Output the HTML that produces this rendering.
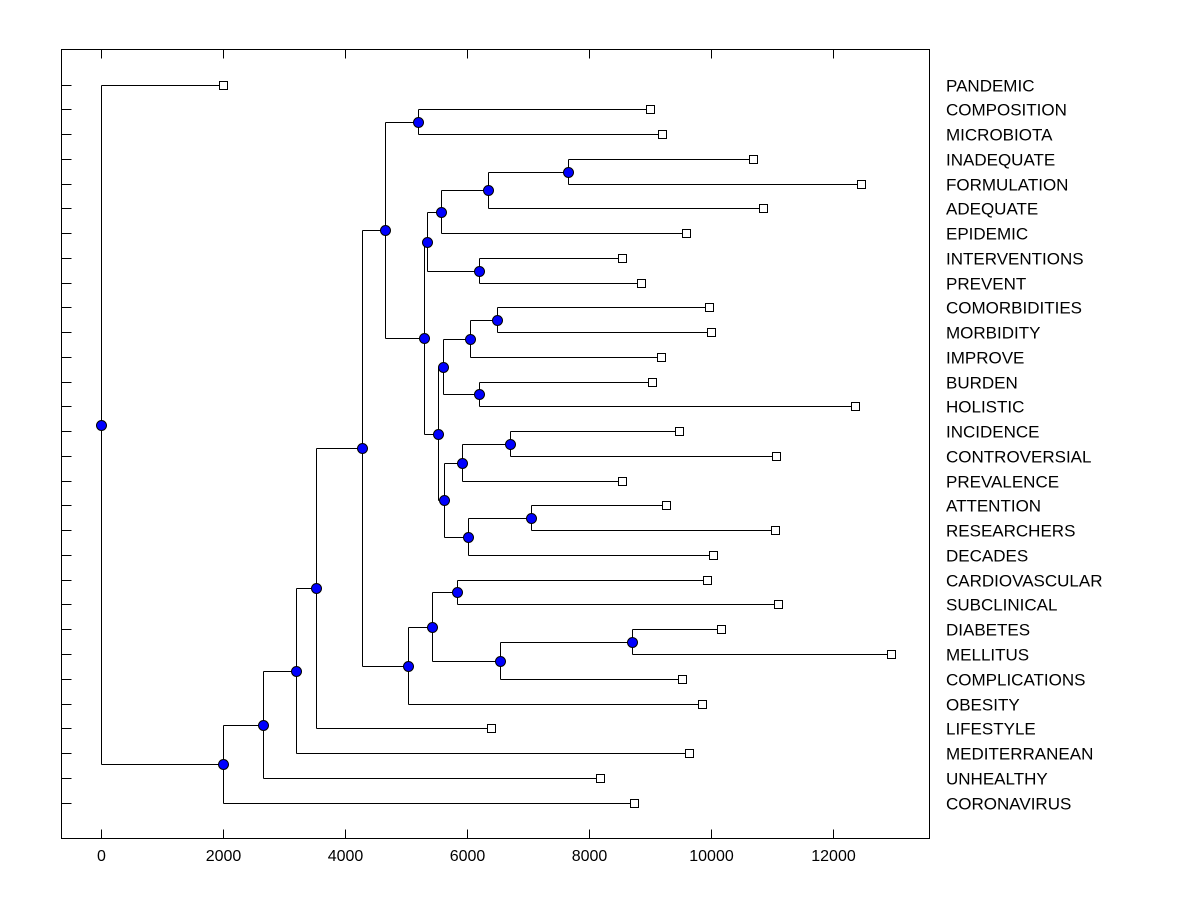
<!DOCTYPE html>
<html><head><meta charset="utf-8"><style>
body{margin:0;background:#fff}
svg{display:block}
text{font-family:"Liberation Sans",sans-serif}
</style></head><body>
<svg id="c" width="1200" height="900" xmlns="http://www.w3.org/2000/svg"></svg>
<script>
const leafLabels=["PANDEMIC","COMPOSITION","MICROBIOTA","INADEQUATE","FORMULATION","ADEQUATE","EPIDEMIC","INTERVENTIONS","PREVENT","COMORBIDITIES","MORBIDITY","IMPROVE","BURDEN","HOLISTIC","INCIDENCE","CONTROVERSIAL","PREVALENCE","ATTENTION","RESEARCHERS","DECADES","CARDIOVASCULAR","SUBCLINICAL","DIABETES","MELLITUS","COMPLICATIONS","OBESITY","LIFESTYLE","MEDITERRANEAN","UNHEALTHY","CORONAVIRUS"];
const leafHeights=[2000,9000,9200,10690,12460,10850,9590,8540,8850,9970,10000,9180,9030,12360,9480,11070,8540,9260,11050,10030,9930,11100,10160,12950,9530,9850,6390,9640,8180,8740];
const xTicks=[0,2000,4000,6000,8000,10000,12000];
// internal nodes: [name, left child, right child, height]; children: "L<i>" leaf index or node name
const nodeNames=["O","N","L","M","J","H","T","R","S","P","W","U","X","V","Q","K","I","F","BB","AA","Z","Y","G","E","D","C","B","A","ROOT"];
const nodeLeft=["L3","O","N","L7","L","L1","L9","T","L12","R","L14","W","L17","X","U","P","J","H","L22","BB","L20","Z","Y","F","E","D","C","B","L0"];
const nodeRight=["L4","L5","L6","L8","M","L2","L10","L11","L13","S","L15","L16","L18","L19","V","Q","K","I","L23","L24","L21","AA","L25","G","L26","L27","L28","L29","A"];
const nodeHeights=[7650,6350,5580,6200,5350,5200,6500,6050,6200,5600,6700,5920,7050,6020,5630,5530,5300,4650,8700,6540,5830,5420,5030,4270,3520,3200,2650,2000,0];

const svg=document.getElementById('c');const NS="http://www.w3.org/2000/svg";
const X0=61.5,X1=929.5,Y0=49.5,Y1=838.5;
const xs=v=>Math.round(101.3+v*0.06095)+0.5;
const ys=i=>Math.round(84.5+i*24.76)+0.5;
function mk(t,a,name){const e=document.createElementNS(NS,t);for(const k in a)e.setAttribute(k,a[k]);


svg.appendChild(e);return e;}
mk('rect',{x:X0,y:Y0,width:X1-X0,height:Y1-Y0,fill:'none',stroke:'#000','stroke-width':1},'plot-frame');
xTicks.forEach(t=>{const x=xs(t);
mk('line',{x1:x,x2:x,y1:Y1,y2:Y1-9,stroke:'#000'},'x-tick');
mk('line',{x1:x,x2:x,y1:Y0,y2:Y0+9,stroke:'#000'},'x-tick-top');
const tx=mk('text',{x:x,y:861,'text-anchor':'middle','font-size':16},'x-tick-label');tx.textContent=t;});
leafLabels.forEach((l,i)=>{const y=ys(i);
mk('line',{x1:X0,x2:X0+10,y1:y,y2:y,stroke:'#000'},'y-tick');
const t=mk('text',{x:946,y:y+6,'font-size':17},'leaf-label');t.textContent=l;});
const pos={};
leafHeights.forEach((h,i)=>pos["L"+i]={h:h,y:ys(i),leaf:true});
nodeNames.forEach((n,i)=>{const a=pos[nodeLeft[i]],b=pos[nodeRight[i]];pos[n]={h:nodeHeights[i],y:Math.round((a.y+b.y)/2-0.5)+0.5,kids:[nodeLeft[i],nodeRight[i]]};});
const marks=[];
function draw(k,ph){const p=pos[k];
if(ph!==null)mk('line',{x1:xs(ph),x2:xs(p.h),y1:p.y,y2:p.y,stroke:'#000'},'branch');
if(!p.leaf){const a=pos[p.kids[0]],b=pos[p.kids[1]];
mk('line',{x1:xs(p.h),x2:xs(p.h),y1:a.y,y2:b.y,stroke:'#000'},'merge-line');
draw(p.kids[0],p.h);draw(p.kids[1],p.h);}
marks.push(p);}
draw("ROOT",null);
marks.forEach(p=>{if(p.leaf)mk('rect',{x:xs(p.h)-4,y:p.y-4,width:8,height:8,fill:'#fff',stroke:'#000'},'leaf-marker');
else mk('circle',{cx:xs(p.h),cy:p.y,r:5,fill:'#0000ff',stroke:'#000'},'merge-node');});
</script>
</body></html>
